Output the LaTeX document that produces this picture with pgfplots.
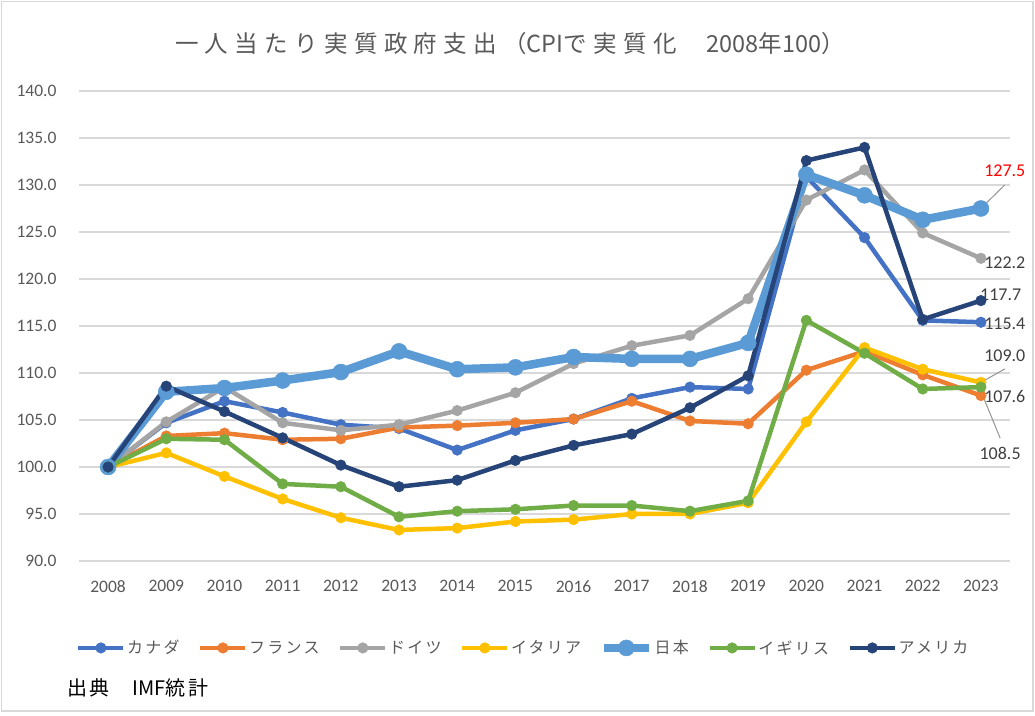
\documentclass[border=0pt]{standalone}
\usepackage{pgfplots}
\pgfplotsset{compat=1.18}
\usepackage{fontspec}
\setmainfont{Carlito}
\newfontfamily\jp{Noto Sans CJK JP}
\newfontfamily\jpsp[LetterSpace=27]{Noto Sans CJK JP}
\newfontfamily\jpleg[LetterSpace=14]{Noto Sans CJK JP}
\definecolor{cCA}{HTML}{4472C4}
\definecolor{cFR}{HTML}{ED7D31}
\definecolor{cDE}{HTML}{A5A5A5}
\definecolor{cIT}{HTML}{FFC000}
\definecolor{cJP}{HTML}{5B9BD5}
\definecolor{cUK}{HTML}{70AD47}
\definecolor{cUS}{HTML}{264478}
\definecolor{gridc}{HTML}{D9D9D9}
\definecolor{txt}{HTML}{595959}
\definecolor{lbl}{HTML}{404040}

\pgfplotstableread{
year CA FR DE IT JP UK US
2008 100.0 100.0 100.0 100.0 100.0 100.0 100.0
2009 104.7 103.3 104.8 101.5 108.0 103.0 108.6
2010 107.0 103.6 108.5 99.0 108.4 102.9 105.9
2011 105.8 102.9 104.7 96.6 109.2 98.2 103.1
2012 104.5 103.0 103.9 94.6 110.1 97.9 100.2
2013 104.1 104.2 104.5 93.3 112.3 94.7 97.9
2014 101.8 104.4 106.0 93.5 110.4 95.3 98.6
2015 103.9 104.7 107.9 94.2 110.6 95.5 100.7
2016 105.1 105.1 111.0 94.4 111.7 95.9 102.3
2017 107.3 107.0 112.9 95.0 111.5 95.9 103.5
2018 108.5 104.9 114.0 95.0 111.5 95.3 106.3
2019 108.3 104.6 117.9 96.2 113.2 96.4 109.7
2020 130.9 110.3 128.4 104.8 131.1 115.6 132.6
2021 124.4 112.3 131.6 112.7 128.9 112.1 134.0
2022 115.6 109.8 124.9 110.4 126.3 108.3 115.7
2023 115.4 107.6 122.2 109.0 127.5 108.5 117.7
}\data

\begin{document}
\begin{tikzpicture}[x=1bp,y=1bp]
\useasboundingbox (0,0) rectangle (1035,716);
\draw[gridc, line width=1.5bp] (1.5,5) rectangle (1033,714.5);
\begin{axis}[
  at={(79bp,155bp)}, anchor=south west,
  scale only axis, width=931bp, height=470bp,
  xmin=2007.5, xmax=2023.5, ymin=90, ymax=140,
  xtick={2008,...,2023}, ytick={90,95,...,140},
  axis line style={draw=none},
  major tick length=0pt,
  ymajorgrids, grid style={gridc, line width=1.2bp},
  clip=false,
  /pgf/number format/assume math mode=true,
  xticklabel style={/pgf/number format/1000 sep={}, font=\fontsize{17.5bp}{20bp}\selectfont, text=txt, yshift=-16bp},
  yticklabel style={/pgf/number format/fixed, /pgf/number format/fixed zerofill, /pgf/number format/precision=1, font=\fontsize{17.5bp}{20bp}\selectfont, text=txt, xshift=-19bp},
  every axis plot/.append style={line width=4.5bp, mark=*, mark size=5.3bp, mark options={solid, line width=0.5bp}},
  legend columns=7,
  legend style={draw=none, fill=none, at={(rel axis cs:0.477,-0.185)}, anchor=center,
     font=\jpleg\fontsize{16bp}{18bp}\selectfont, text=txt,
     /tikz/every even column/.append style={column sep=17bp},
     nodes={inner sep=1.5bp}},
  legend image code/.code={\draw[mark repeat=2, mark phase=2, #1] plot coordinates {(0bp,0bp) (22.5bp,0bp) (45bp,0bp)};},
]
\addplot[color=cCA] table[x=year,y=CA] {\data};
\addlegendentry{カナダ}
\addplot[color=cFR] table[x=year,y=FR] {\data};
\addlegendentry{フランス}
\addplot[color=cDE] table[x=year,y=DE] {\data};
\addlegendentry{ドイツ}
\addplot[color=cIT] table[x=year,y=IT] {\data};
\addlegendentry{イタリア}
\addplot[color=cJP, line width=8.5bp, mark size=8bp] table[x=year,y=JP] {\data};
\addlegendentry{日本}
\addplot[color=cUK] table[x=year,y=UK] {\data};
\addlegendentry{イギリス}
\addplot[color=cUS] table[x=year,y=US] {\data};
\addlegendentry{アメリカ}

\draw[cDE!90!black, line width=1bp] (axis cs:2023.41,130.0) -- (axis cs:2023.03,127.7);
\draw[cDE!90!black, line width=1bp] (axis cs:2023.41,110.43) -- (axis cs:2023.03,109.1);
\draw[cDE!90!black, line width=1bp] (axis cs:2023.33,103.09) -- (axis cs:2023.03,107.6);
\begin{scope}[every node/.style={font=\fontsize{18bp}{20bp}\selectfont, inner sep=0pt}]
\node[text=red] at (axis cs:2023.41,131.49) {127.5};
\node[text=lbl] at (axis cs:2023.41,121.70) {122.2};
\node[text=lbl] at (axis cs:2023.34,118.30) {117.7};
\node[text=lbl] at (axis cs:2023.41,115.21) {115.4};
\node[text=lbl] at (axis cs:2023.41,111.81) {109.0};
\node[text=lbl] at (axis cs:2023.41,107.45) {107.6};
\node[text=lbl] at (axis cs:2023.33,101.49) {108.5};
\end{scope}
\end{axis}
\node[text=txt, font=\fontsize{23.5bp}{26bp}\selectfont] at (510,672) {\jpsp 一人当たり実質政府支出（\jp CPI\jpsp で実質化　\jp 2008\jpsp 年\jp 100\jpsp ）};
\node[anchor=west, text=black, font=\fontsize{20bp}{22bp}\selectfont, inner sep=0pt] at (67,28) {\jpleg 出典　\jp IMF\jpleg 統計};
\end{tikzpicture}
\end{document}
